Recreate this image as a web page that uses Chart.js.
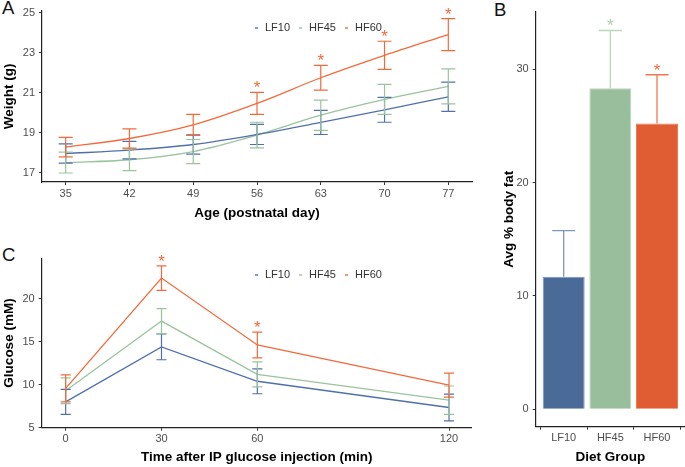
<!DOCTYPE html>
<html lang="en">
<head>
    <meta charset="UTF-8">
    <title>Weight, body fat and glucose by diet group</title>
    <script src="https://cdn.jsdelivr.net/npm/chart.js@4.4.0/dist/chart.umd.js"></script>
    <style>
        body { margin: 0; width: 685px; height: 467px; background: #fff; position: relative; overflow: hidden;
               font-family: "Liberation Sans", Arial, sans-serif; }
        canvas { position: absolute; }
        .tag { position: absolute; font-size: 18.5px; line-height: 1; color: #111; }
    </style>
</head>
<body>
    <div class="tag" style="left:2px; top:-1px">A</div>
    <div class="tag" style="left:494px; top:1px">B</div>
    <div class="tag" style="left:2px; top:246px">C</div>

    <canvas id="weightChart" width="500" height="225" style="left:0; top:0"></canvas>
    <canvas id="fatChart" width="185" height="467" style="left:500px; top:0"></canvas>
    <canvas id="glucoseChart" width="500" height="232" style="left:0; top:235px"></canvas>

    <script>
        // Groups
        const groups = ['LF10', 'HF45', 'HF60'];

        // Panel A - weight by age
        const ageDays = [35, 42, 49, 56, 63, 70, 77];
        const weightTicks = [17, 19, 21, 23, 25];
        const weightLF10 = [17.97, 18.14, 18.42, 18.92, 19.52, 20.15, 20.80];
        const weightHF45 = [17.52, 17.66, 18.07, 18.89, 19.88, 20.67, 21.32];
        const weightHF60 = [18.29, 18.72, 19.40, 20.47, 21.75, 22.87, 23.90];
        const weightSeLF10 = [0.48, 0.44, 0.48, 0.50, 0.60, 0.62, 0.73];
        const weightSeHF45 = [0.52, 0.54, 0.60, 0.64, 0.75, 0.75, 0.87];
        const weightSeHF60 = [0.49, 0.48, 0.52, 0.55, 0.62, 0.70, 0.80];
        const weightStarsHF60 = [0, 0, 0, 1, 1, 1, 1];

        // Panel B - body fat
        const fatTicks = [0, 10, 20, 30];
        const fatMean = [11.7, 28.3, 25.2];
        const fatSe = [4.05, 5.1, 4.3];
        const fatStars = [0, 1, 1];

        // Panel C - glucose tolerance
        const timeMin = [0, 30, 60, 120];
        const glucoseTicks = [5, 10, 15, 20];
        const glucoseLF10 = [8.0, 14.4, 10.4, 7.35];
        const glucoseHF45 = [9.3, 17.4, 11.2, 8.2];
        const glucoseHF60 = [9.57, 22.4, 14.62, 9.95];
        const glucoseSeLF10 = [1.45, 1.5, 1.45, 1.55];
        const glucoseSeHF45 = [1.5, 1.45, 1.45, 1.65];
        const glucoseSeHF60 = [1.57, 1.42, 1.5, 1.4];
        const glucoseStarsHF60 = [0, 1, 1, 0];

        // Colours
        const lineColors = ['#5070aa', '#9ac39d', '#f26a3c'];
        const barColors = ['#4a6b98', '#99be9c', '#e05c33'];
        const barEdgeColors = ['#7d96c2', '#bbd7be', '#f2774b'];

        const FONT = '"Liberation Sans", Arial, sans-serif';
        Chart.defaults.font.family = FONT;
        Chart.defaults.animation = false;

        // Error bars and significance stars
        const errorBars = {
            id: 'errorBars',
            afterDatasetsDraw(chart, args, opts) {
                const { ctx, scales: { y } } = chart;
                chart.data.datasets.forEach((ds, i) => {
                    const meta = chart.getDatasetMeta(i);
                    meta.data.forEach((el, j) => {
                        const raw = ds.data[j];
                        const val = typeof raw === 'object' ? raw.y : raw;
                        const colors = ds.errorColor;
                        const color = Array.isArray(colors) ? colors[j] : (colors || ds.borderColor);
                        const x = el.x;
                        const top = y.getPixelForValue(val + ds.se[j]);
                        const bot = y.getPixelForValue(opts.upperOnly ? val : val - ds.se[j]);
                        ctx.save();
                        ctx.strokeStyle = color;
                        ctx.lineWidth = opts.lineWidth;
                        ctx.beginPath();
                        ctx.moveTo(x, top); ctx.lineTo(x, bot);
                        ctx.moveTo(x - opts.cap, top); ctx.lineTo(x + opts.cap, top);
                        if (!opts.upperOnly) {
                            ctx.moveTo(x - opts.cap, bot); ctx.lineTo(x + opts.cap, bot);
                        }
                        ctx.stroke();
                        if (ds.stars && ds.stars[j]) {
                            const starColors = ds.starColor;
                            ctx.fillStyle = Array.isArray(starColors) ? starColors[j] : (starColors || color);
                            ctx.font = '17px ' + FONT;
                            ctx.textAlign = 'center';
                            ctx.textBaseline = 'alphabetic';
                            ctx.fillText('*', x, top + opts.starGap);
                        }
                        ctx.restore();
                    });
                });
            }
        };

        // Small in-panel legend
        const keyLegend = {
            id: 'keyLegend',
            afterDraw(chart, args, opts) {
                if (!opts.show) return;
                const ctx = chart.ctx;
                let x = opts.x;
                ctx.save();
                ctx.font = '11px ' + FONT;
                ctx.textBaseline = 'middle';
                ctx.textAlign = 'left';
                chart.data.datasets.forEach(ds => {
                    ctx.strokeStyle = ds.borderColor;
                    ctx.lineWidth = 1.4;
                    ctx.beginPath();
                    ctx.moveTo(x, opts.y);
                    ctx.lineTo(x + 3, opts.y);
                    ctx.stroke();
                    x += 10;
                    ctx.fillStyle = '#333';
                    ctx.fillText(ds.label, x, opts.y);
                    x += ctx.measureText(ds.label).width + 9;
                });
                ctx.restore();
            }
        };

        // Shared axis look (theme_classic style)
        function axis(extra) {
            return Object.assign({
                type: 'linear',
                grid: { drawOnChartArea: false, drawTicks: true, tickLength: 3, tickColor: '#333', tickWidth: 1 },
                border: { display: true, color: '#222', width: 1.2 },
                ticks: { color: '#4d4d4d', font: { size: 11 }, padding: 2, maxRotation: 0 },
                title: { display: true, color: '#000', font: { size: 13.5, weight: 'bold' } }
            }, extra);
        }

        function toPoints(xs, ys) {
            return xs.map((x, k) => ({ x: x, y: ys[k] }));
        }

        function lineSets(xs, series, ses, stars) {
            return groups.map((g, i) => ({
                label: g,
                data: toPoints(xs, series[i]),
                se: ses[i],
                stars: stars[i],
                borderColor: lineColors[i],
                borderWidth: 1.3,
                pointRadius: 0,
                fill: false
            }));
        }

        // Create weight chart
        function createWeightChart() {
            const sets = lineSets(ageDays, [weightLF10, weightHF45, weightHF60],
                [weightSeLF10, weightSeHF45, weightSeHF60], [null, null, weightStarsHF60]);
            sets.forEach(s => { s.cubicInterpolationMode = 'monotone'; });
            new Chart(document.getElementById('weightChart'), {
                type: 'line',
                data: { datasets: sets },
                options: {
                    responsive: false,
                    layout: { padding: { left: 0, right: 28, top: 10, bottom: 0 } },
                    plugins: {
                        legend: { display: false }, tooltip: { enabled: false },
                        errorBars: { cap: 7, lineWidth: 1.2, starGap: 1, upperOnly: false },
                        keyLegend: { show: true, x: 255, y: 28 }
                    },
                    scales: {
                        x: axis({
                            min: 32.4, max: 79.6,
                            afterBuildTicks: s => { s.ticks = ageDays.map(v => ({ value: v })); },
                            afterFit: s => { s.height = 43; },
                            title: { display: true, text: 'Age (postnatal day)', color: '#000',
                                     font: { size: 13.5, weight: 'bold' }, padding: { top: 0, bottom: 4 } }
                        }),
                        y: axis({
                            min: 16.55, max: 25.1,
                            afterBuildTicks: s => { s.ticks = weightTicks.map(v => ({ value: v })); },
                            afterFit: s => { s.width = 42; },
                            ticks: { color: '#4d4d4d', font: { size: 11 }, padding: 4 },
                            title: { display: true, text: 'Weight (g)', color: '#000',
                                     font: { size: 13.5, weight: 'bold' }, padding: { top: 1, bottom: 0 } }
                        })
                    }
                },
                plugins: [errorBars, keyLegend]
            });
        }

        // Create body fat chart
        function createFatChart() {
            new Chart(document.getElementById('fatChart'), {
                type: 'bar',
                data: {
                    datasets: [{
                        label: 'Avg % body fat',
                        data: toPoints([1, 2, 3], fatMean),
                        se: fatSe,
                        stars: fatStars,
                        backgroundColor: barColors,
                        borderColor: barEdgeColors,
                        errorColor: barEdgeColors,
                        starColor: ['#a9cdab', '#a9cdab', '#f06b3e'],
                        borderWidth: 1,
                        barPercentage: 1,
                        categoryPercentage: 0.9
                    }]
                },
                options: {
                    responsive: false,
                    layout: { padding: { left: 0, right: 0, top: 12, bottom: 0 } },
                    plugins: {
                        legend: { display: false }, tooltip: { enabled: false },
                        errorBars: { cap: 11.5, lineWidth: 1.3, starGap: 1, upperOnly: true },
                        keyLegend: { show: false }
                    },
                    scales: {
                        x: axis({
                            min: 0.4, max: 3.6, offset: false,
                            afterBuildTicks: s => { s.ticks = [1, 2, 3].map(v => ({ value: v })); },
                            afterFit: s => { s.height = 40.3; },
                            ticks: { color: '#4d4d4d', font: { size: 11 }, padding: 2, callback: v => groups[v - 1] },
                            title: { display: true, text: 'Diet Group', color: '#000',
                                     font: { size: 13.5, weight: 'bold' }, padding: { top: 0, bottom: 2 } }
                        }),
                        y: axis({
                            min: -1.53, max: 35.03,
                            afterBuildTicks: s => { s.ticks = fatTicks.map(v => ({ value: v })); },
                            afterFit: s => { s.width = 35.7; },
                            ticks: { color: '#4d4d4d', font: { size: 11 }, padding: 4 },
                            title: { display: true, text: 'Avg % body fat', color: '#000',
                                     font: { size: 13.5, weight: 'bold' }, padding: { top: 1, bottom: 0 } }
                        })
                    }
                },
                plugins: [errorBars, keyLegend]
            });
        }

        // Create glucose chart
        function createGlucoseChart() {
            const sets = lineSets(timeMin, [glucoseLF10, glucoseHF45, glucoseHF60],
                [glucoseSeLF10, glucoseSeHF45, glucoseSeHF60], [null, null, glucoseStarsHF60]);
            new Chart(document.getElementById('glucoseChart'), {
                type: 'line',
                data: { datasets: sets },
                options: {
                    responsive: false,
                    layout: { padding: { left: 0, right: 28.3, top: 23.3, bottom: 0 } },
                    plugins: {
                        legend: { display: false }, tooltip: { enabled: false },
                        errorBars: { cap: 5, lineWidth: 1.2, starGap: 1, upperOnly: false },
                        keyLegend: { show: true, x: 255, y: 40 }
                    },
                    scales: {
                        x: axis({
                            min: -7.5, max: 127.1,
                            afterBuildTicks: s => { s.ticks = [0, 30, 60, 120].map(v => ({ value: v })); },
                            afterFit: s => { s.height = 39.3; },
                            title: { display: true, text: 'Time after IP glucose injection (min)', color: '#000',
                                     font: { size: 13.5, weight: 'bold' }, padding: { top: 0, bottom: 2 } }
                        }),
                        y: axis({
                            min: 5, max: 24.7,
                            afterBuildTicks: s => { s.ticks = glucoseTicks.map(v => ({ value: v })); },
                            afterFit: s => { s.width = 41.7; },
                            ticks: { color: '#4d4d4d', font: { size: 11 }, padding: 4 },
                            title: { display: true, text: 'Glucose (mM)', color: '#000',
                                     font: { size: 13.5, weight: 'bold' }, padding: { top: 1, bottom: 0 } }
                        })
                    }
                },
                plugins: [errorBars, keyLegend]
            });
        }

        createWeightChart();
        createFatChart();
        createGlucoseChart();
    </script>
</body>
</html>
